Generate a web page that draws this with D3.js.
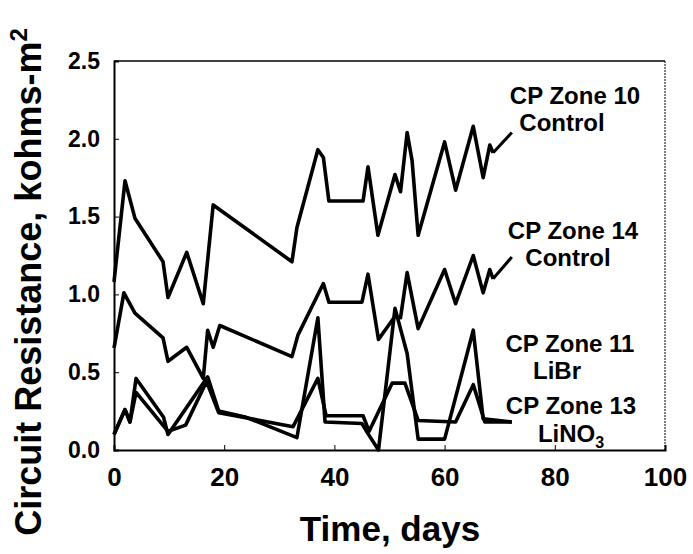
<!DOCTYPE html>
<html>
<head>
<meta charset="utf-8">
<script src="https://cdn.jsdelivr.net/npm/d3@7"></script>
<style>
  body { margin: 0; background: #fff; }
  text { font-family: Arial, "Liberation Sans", sans-serif; font-weight: bold; fill: #000; }
</style>
</head>
<body>
<script>
'use strict';

// time in days / circuit resistance (kohms-m2)
const zone10Days = [0, 2, 3.8, 8.9, 9.8, 13.2, 16.2, 18, 32.3, 33.2, 37, 38, 39, 45.2, 46.1, 47.9, 51, 52, 53.2, 54.1, 55.2, 60, 62, 65.2, 67, 68.2, 68.8];
const zone10Vals = [1.08, 1.73, 1.49, 1.21, 0.98, 1.27, 0.94, 1.575, 1.21, 1.43, 1.93, 1.88, 1.6, 1.6, 1.82, 1.38, 1.77, 1.66, 2.04, 1.86, 1.38, 1.98, 1.67, 2.08, 1.75, 1.96, 1.91];

const zone14Days = [0, 1.8, 3.8, 8.9, 9.8, 13.2, 16.2, 17, 18, 19.2, 32.3, 33.4, 38, 39, 45, 46.1, 48, 51, 52, 53.2, 55.2, 60, 62, 65.2, 67, 68.2, 68.8];
const zone14Vals = [0.655, 1.01, 0.88, 0.72, 0.57, 0.66, 0.46, 0.77, 0.66, 0.8, 0.6, 0.74, 1.07, 0.95, 0.95, 1.13, 0.71, 0.86, 0.85, 1.14, 0.78, 1.16, 0.94, 1.25, 1.01, 1.16, 1.1];

const zone11Days = [0, 2, 2.9, 4, 9, 9.8, 17, 19, 24, 33.2, 37, 38.3, 45, 46, 48, 51, 53.2, 55.2, 60, 65.2, 67, 72.2];
const zone11Vals = [0.1, 0.26, 0.18, 0.46, 0.21, 0.1, 0.47, 0.25, 0.21, 0.08, 0.85, 0.18, 0.17, 0.11, 0.0, 0.91, 0.62, 0.07, 0.07, 0.77, 0.2, 0.18];

const zone13Days = [0, 2, 2.9, 4, 9.8, 13, 16.8, 19, 32.5, 37, 38.5, 45.2, 46.3, 50.5, 52.8, 55.2, 62, 65.2, 67.3, 72.2];
const zone13Vals = [0.1, 0.26, 0.18, 0.37, 0.12, 0.16, 0.44, 0.24, 0.15, 0.46, 0.22, 0.22, 0.12, 0.43, 0.43, 0.19, 0.18, 0.42, 0.18, 0.18];

// leader lines from the control curves to their labels
const leaderDays = [[68.8, 72.2], [68.8, 72.2]];
const leaderVals = [[1.91, 2.04], [1.1, 1.24]];

const xTicks = [0, 20, 40, 60, 80, 100];
const yTicks = [0, 0.5, 1.0, 1.5, 2.0, 2.5];

const W = 693, H = 554;
const svg = d3.select('body').append('svg').attr('width', W).attr('height', H);

const x = d3.scaleLinear().domain([0, 100]).range([114, 665]);
const y = d3.scaleLinear().domain([0, 2.5]).range([450, 61]);

// frame: top solid, right dotted
svg.append('line').attr('x1', x(0)).attr('x2', x(100)).attr('y1', y(2.5)).attr('y2', y(2.5))
  .attr('stroke', '#000').attr('stroke-width', 1.5);
svg.append('line').attr('x1', x(100)).attr('x2', x(100)).attr('y1', y(2.5)).attr('y2', y(0))
  .attr('stroke', '#000').attr('stroke-width', 1).attr('stroke-dasharray', '2,1');

// axes
let xAxis = svg.append('g').attr('transform', 'translate(0,' + y(0) + ')')
  .call(d3.axisBottom(x).tickValues(xTicks).tickSize(-5).tickPadding(18).tickFormat(d3.format('d')));
xAxis.select('.domain').attr('stroke-width', 2);
xAxis.selectAll('text').style('font-size', '26px').attr('dy', '0.71em');

let yAxis = svg.append('g').attr('transform', 'translate(' + x(0) + ',0)')
  .call(d3.axisLeft(y).tickValues(yTicks).tickSize(-5).tickPadding(14).tickFormat(d3.format('.1f')));
yAxis.select('.domain').attr('stroke-width', 2);
yAxis.selectAll('text').style('font-size', '23px');

// axis titles
svg.append('text').attr('x', 390).attr('y', 541).attr('text-anchor', 'middle')
  .style('font-size', '35px').text('Time, days');

let yTitle = svg.append('text').attr('transform', 'translate(41,282)rotate(-90)')
  .attr('text-anchor', 'middle').style('font-size', '36px');
yTitle.append('tspan').text('Circuit Resistance, kohms-m');
yTitle.append('tspan').attr('dy', -14).style('font-size', '24px').text('2');

// series lines
let line = d3.line().x(d => x(d[0])).y(d => y(d[1]));
let series = [
  d3.zip(zone10Days, zone10Vals),
  d3.zip(zone14Days, zone14Vals),
  d3.zip(zone11Days, zone11Vals),
  d3.zip(zone13Days, zone13Vals)
];
svg.selectAll('.series').data(series).enter().append('path')
  .attr('class', 'series')
  .attr('d', line)
  .attr('fill', 'none')
  .attr('stroke', '#000')
  .attr('stroke-width', 3.6)
  .attr('stroke-linejoin', 'round');

svg.selectAll('.leader').data(d3.range(leaderDays.length)).enter().append('path')
  .attr('class', 'leader')
  .attr('d', i => line(d3.zip(leaderDays[i], leaderVals[i])))
  .attr('fill', 'none')
  .attr('stroke', '#000')
  .attr('stroke-width', 3);

// curve labels
function label(txt, cx, by) {
  return svg.append('text').attr('x', cx).attr('y', by).attr('text-anchor', 'middle')
    .style('font-size', '24px').text(txt);
}
label('CP Zone 10', 575, 104);
label('Control', 562, 131);
label('CP Zone 14', 573, 239);
label('Control', 568, 266);
label('CP Zone 11', 570, 352);
label('LiBr', 557, 379);
label('CP Zone 13', 571, 414);
let lino = svg.append('text').attr('x', 571).attr('y', 442).attr('text-anchor', 'middle')
  .style('font-size', '24px');
lino.append('tspan').text('LiNO');
lino.append('tspan').attr('dy', 6).style('font-size', '16px').text('3');
</script>
</body>
</html>
